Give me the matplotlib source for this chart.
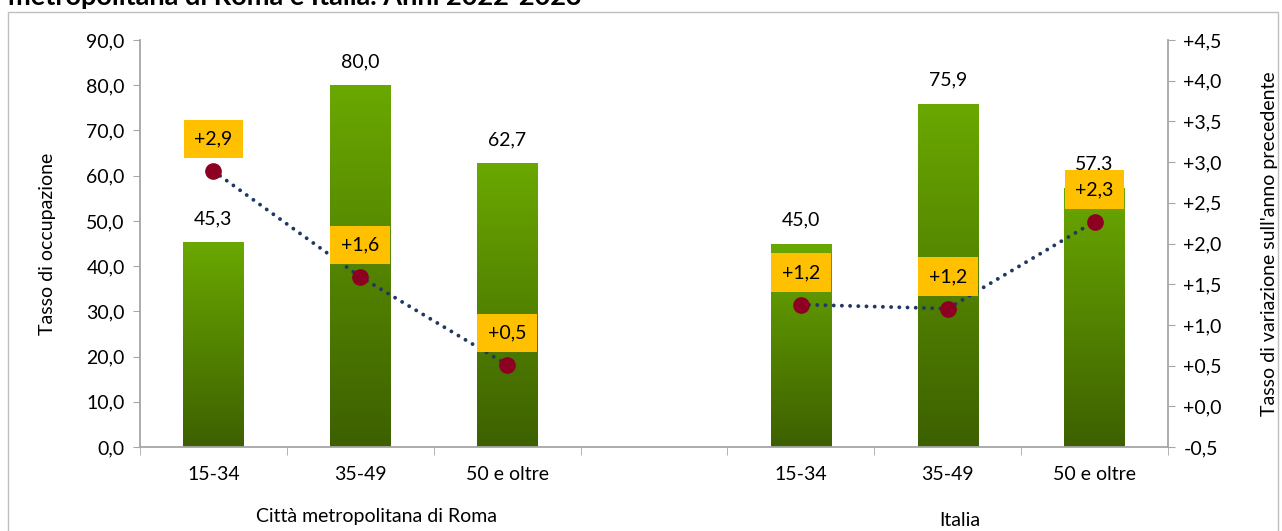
import numpy as np
import matplotlib
matplotlib.use("Agg")
import matplotlib.pyplot as plt
from matplotlib.colors import LinearSegmentedColormap
from matplotlib.patches import Rectangle
from matplotlib.ticker import FuncFormatter, FixedLocator

# === dati ===
categories = ["15-34", "35-49", "50 e oltre", "", "15-34", "35-49", "50 e oltre"]
groups = ["Città metropolitana di Roma", "Italia"]
occupazione = [45.3, 80.0, 62.7, np.nan, 45.0, 75.9, 57.3]
variazione = [2.89, 1.59, 0.51, np.nan, 1.25, 1.20, 2.27]
variazione_lab = ["+2,9", "+1,6", "+0,5", "", "+1,2", "+1,2", "+2,3"]
title = "metropolitana di Roma e Italia. Anni 2022-2023"

plt.rcParams['font.family'] = ['Lato', 'DejaVu Sans']
GRAY = "#A6A6A6"
FS = 14

fig = plt.figure(figsize=(12.82, 5.31), dpi=100)
ax = fig.add_axes([140 / 1282, 1 - 447 / 531, 1028 / 1282, 407 / 531])
ax2 = ax.twinx()

# cornice grigia
fig.patches.append(Rectangle((8 / 1282, -0.1), 1270 / 1282, 1.1 - 12 / 531,
                             transform=fig.transFigure, fill=False,
                             edgecolor="#BFBFBF", linewidth=1.0))
fig.text(8 / 1282, 1 - 5 / 531, title, fontsize=19.5, weight="bold", va="baseline")

# === barre con gradiente ===
x = np.arange(len(categories))
bars = ax.bar(x, np.nan_to_num(occupazione), width=0.41, color="none", zorder=2)
cmap = LinearSegmentedColormap.from_list("gr", ["#3D6000", "#6AA800"])
grad = np.linspace(0, 1, 256).reshape(-1, 1)
for b, v in zip(bars, occupazione):
    if np.isnan(v):
        continue
    im = ax.imshow(grad, extent=[b.get_x(), b.get_x() + b.get_width(), 0, b.get_height()],
                   origin="lower", aspect="auto", cmap=cmap, zorder=2)
    im.set_clip_path(b)
    ax.annotate(f"{v:.1f}".replace(".", ","), (b.get_x() + b.get_width() / 2, v),
                xytext=(0, 17), textcoords="offset points", ha="center", va="center",
                fontsize=FS)

ax.set_xlim(-0.5, len(categories) - 0.5)
ax.set_ylim(0, 90)
ax.set_yticks(np.arange(0, 91, 10))
ax.yaxis.set_major_formatter(FuncFormatter(lambda v, p: f"{v:.1f}".replace(".", ",")))
ax.set_xticks(x)
ax.set_xticklabels(categories)
ax.xaxis.set_minor_locator(FixedLocator(np.arange(-0.5, len(categories), 1)))
ax.tick_params(axis="x", which="major", length=0, pad=14, labelsize=FS)
ax.tick_params(axis="x", which="minor", length=6, color=GRAY, direction="out")
ax.tick_params(axis="y", length=5, color=GRAY, labelsize=FS, pad=6)
ax.set_ylabel("Tasso di occupazione", fontsize=FS, labelpad=22)
for s in ["top", "right"]:
    ax.spines[s].set_visible(False)
for s in ["left", "bottom"]:
    ax.spines[s].set_color(GRAY)
    ax.spines[s].set_linewidth(1.3)

# etichette di gruppo
ax.text(1.11, -0.17, groups[0], transform=ax.get_xaxis_transform(), ha="center", va="center", fontsize=FS)
ax.text(5.08, -0.18, groups[1], transform=ax.get_xaxis_transform(), ha="center", va="center", fontsize=FS)

# === linea variazione ===
ax2.plot(x, variazione, linestyle=(0, (0.01, 2.1)), dash_capstyle="round", color="#1F3864",
         linewidth=2.8, marker="o", markersize=11, markerfacecolor="#8E0021",
         markeredgecolor="#8E0021", zorder=3)
for xi, v, lab in zip(x, variazione, variazione_lab):
    if np.isnan(v):
        continue
    ax2.annotate(lab, (xi, v), xytext=(0, 23), textcoords="offset points", ha="center",
                 va="center", fontsize=FS, zorder=4,
                 bbox=dict(boxstyle="square,pad=0.55", facecolor="#FFC000", edgecolor="none"))
ax2.set_ylim(-0.5, 4.5)
ax2.set_yticks(np.arange(-0.5, 4.51, 0.5))
ax2.yaxis.set_major_formatter(FuncFormatter(
    lambda v, p: ("-" if v < -1e-9 else "+") + f"{abs(v):.1f}".replace(".", ",")))
ax2.tick_params(axis="y", length=5, color=GRAY, labelsize=FS, pad=6)
ax2.set_ylabel("Tasso di variazione sull'anno precedente", fontsize=FS, labelpad=28)
for s in ["top", "left", "bottom"]:
    ax2.spines[s].set_visible(False)
ax2.spines["right"].set_color(GRAY)
ax2.spines["right"].set_linewidth(1.3)

fig.savefig("out.png", dpi=100)
